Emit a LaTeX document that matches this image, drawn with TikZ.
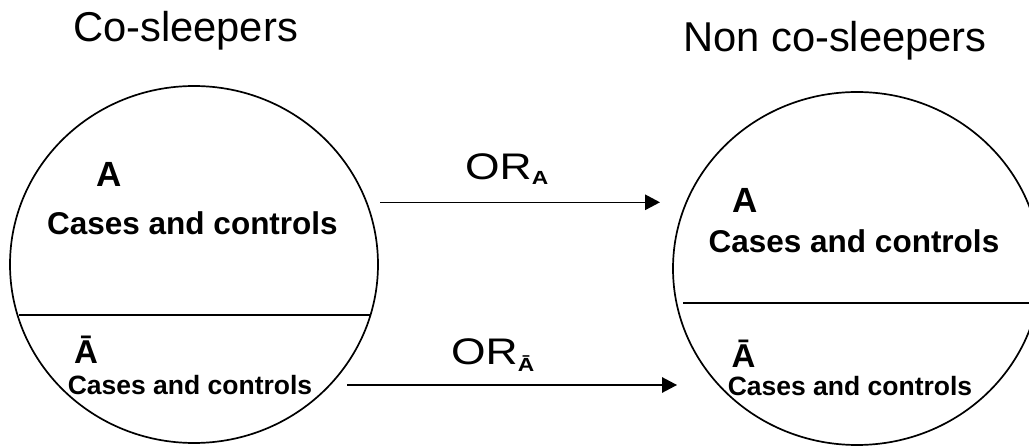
\documentclass[tikz,border=0pt]{standalone}
\usepackage{fontspec}
\setmainfont{Liberation Sans}
\usepackage{graphicx}
\usetikzlibrary{arrows.meta,shapes.geometric}
\newcommand{\fsz}[1]{\fontsize{#1}{#1}\selectfont}

\begin{document}
\begin{tikzpicture}[x=1pt,y=-1pt,
  group/.style={draw, ellipse, line width=1.7pt, inner sep=0pt},
  title/.style={anchor=base, inner sep=0pt, font=\fsz{41.7}},
  letter/.style={anchor=base, inner sep=0pt, font=\fsz{35}\bfseries},
  barletter/.style={anchor=base, inner sep=0pt, font=\fsz{33}\bfseries},
  bigcc/.style={anchor=base, inner sep=0pt, font=\fsz{31.5}\bfseries},
  smallcc/.style={anchor=base, inner sep=0pt, font=\fsz{26.5}\bfseries},
  ratio/.style={anchor=base west, inner sep=0pt, font=\fsz{37}},
  divider/.style={line width=1.4pt},
  link/.style={line width=1.4pt, -{Triangle[length=15pt,width=15.5pt]}}]

  \useasboundingbox (0,0) rectangle (1029,446);
  \clip (0,0) rectangle (1029,446);

  % column headings
  \node[title] (t1) at (185.5,42) {Co-sleepers};
  \node[title] (t2) at (835,52) {Non co-sleepers};

  % the two groups
  \node[group, minimum width=368pt, minimum height=357pt] (cs) at (194,264.5) {};
  \node[group, minimum width=368pt, minimum height=353pt] (ncs) at (857,268.5) {};

  % dividing lines between the strata
  \coordinate (csl) at (19,315);
  \coordinate (csr) at (370,315);
  \coordinate (ncsl) at (683,303);
  \coordinate (ncsr) at (1040,303);
  \draw[divider] (csl) -- (csr);
  \draw[divider] (ncsl) -- (ncsr);

  % stratum labels, left group
  \node[letter] (a1) at (109.5,187) {A};
  \node[bigcc] (c1) at (192.5,235) {Cases and controls};
  \node[barletter] (b1) at (86,363.3) {Ā};
  \node[smallcc] (d1) at (190,395) {Cases and controls};

  % stratum labels, right group
  \node[letter] (a2) at (745,213) {A};
  \node[bigcc] (c2) at (854,252.7) {Cases and controls};
  \node[barletter] (b2) at (743.5,368) {Ā};
  \node[smallcc] (d2) at (850,396) {Cases and controls};

  % odds-ratio arrows
  \coordinate (s1) at (380,202.3);
  \coordinate (e1) at (660,202.3);
  \coordinate (s2) at (347,385);
  \coordinate (e2) at (677,385);
  \draw[link] (s1) -- (e1);
  \draw[link] (s2) -- (e2);

  \node[ratio] (r1) at (465,179.3)
    {\scalebox{1.2}[1]{OR\raisebox{-5.7pt}{\fsz{19}\bfseries A}}};
  \node[ratio] (r2) at (451,365)
    {\scalebox{1.2}[1]{OR\raisebox{-6.7pt}{\fsz{19}\bfseries Ā}}};
\end{tikzpicture}
\end{document}
